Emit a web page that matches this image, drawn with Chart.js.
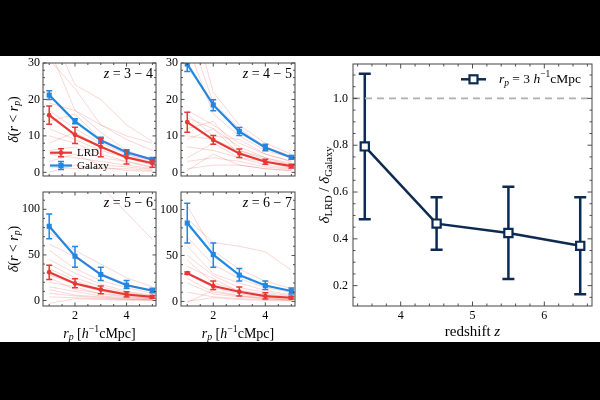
<!DOCTYPE html>
<html>
<head>
<meta charset="utf-8">
<script src="https://cdn.jsdelivr.net/npm/chart.js@4.4.1/dist/chart.umd.min.js"></script>
<style>
  html, body { margin: 0; padding: 0; background: #000; }
  #fig { position: relative; width: 600px; height: 400px; background: #000; overflow: hidden; }
  #paper { position: absolute; left: 0; top: 56px; width: 600px; height: 286px; background: #fff; }
  canvas { position: absolute; }
</style>
</head>
<body>
<div id="fig">
  <div id="paper"></div>
  <canvas id="p34"></canvas>
  <canvas id="p45"></canvas>
  <canvas id="p56"></canvas>
  <canvas id="p67"></canvas>
  <canvas id="ratio"></canvas>
</div>
<script>
// ---- data ----
const rp = [1, 2, 3, 4, 5];
const rpTicks = [2, 4];

// z = 3-4
const lrd34 = [15.7, 10.3, 7.0, 4.1, 2.5];
const lrd34Hi = [18.2, 12.4, 9.3, 5.8, 3.4];
const lrd34Lo = [13.2, 7.9, 4.3, 2.3, 1.4];
const gal34 = [21.2, 14.0, 8.8, 5.5, 3.5];
const gal34Hi = [22.4, 14.7, 9.6, 6.2, 4.1];
const gal34Lo = [20.0, 13.3, 8.0, 4.8, 2.9];
const faint34 = [
  [40, 24, 20, 13, 8.5], [34, 17, 13, 9, 6], [31, 23, 13, 10, 8], [19, 17, 11, 6, 3.5],
  [17, 12, 8, 5, 3], [14, 16, 9, 5, 2.5], [12, 9, 6, 4, 2], [10, 8, 5, 3, 1.5],
  [8, 11, 7, 4, 2.5], [6, 7, 4, 3, 1.2], [5, 4, 3, 2, 1], [3, 5, 2, 1.5, 0.8],
  [1.5, 1, 1.5, 0.5, 0.3], [0, 2, 1, 1, 0.5]
];

// z = 4-5
const lrd45 = [13.8, 8.9, 5.2, 2.9, 1.7];
const lrd45Hi = [16.5, 10.1, 6.4, 3.6, 2.2];
const lrd45Lo = [11.0, 7.7, 4.1, 2.2, 1.2];
const gal45 = [29.7, 18.5, 11.2, 6.8, 4.1];
const gal45Hi = [31.7, 19.9, 12.3, 7.7, 4.6];
const gal45Lo = [27.7, 16.9, 10.1, 5.9, 3.6];
const faint45 = [
  [48, 22, 13, 8, 5], [40, 19, 12, 7, 4.5], [35, 16, 10, 6, 4], [17, 13, 8, 5, 3],
  [15, 12, 7, 4, 2.5], [12, 14, 6, 3.5, 2], [10, 9, 6, 4, 2], [9, 12, 5, 3, 1.5],
  [7, 6, 4, 3, 1], [4, 8, 4, 2, 1], [3, 4, 3, 1.5, 0.8], [1, 2, 2, 1, 0.5],
  [0.5, 5, 2, 1, 0.4], [16, 10, 9, 5, 3]
];

// z = 5-6
const lrd56 = [31.0, 18.6, 12.0, 6.6, 4.0];
const lrd56Hi = [38.7, 24.0, 15.8, 9.5, 5.5];
const lrd56Lo = [23.0, 13.9, 7.3, 3.8, 2.5];
const gal56 = [81.4, 48.6, 28.5, 16.8, 10.9];
const gal56Hi = [95.0, 59.2, 36.5, 21.9, 13.5];
const gal56Lo = [67.8, 36.5, 21.9, 13.1, 8.5];
const faint56 = [
  [250, 180, 126, 96, 67], [75, 55, 40, 25, 15], [62, 48, 30, 18, 10], [55, 35, 22, 14, 8],
  [45, 30, 18, 10, 6], [40, 25, 15, 9, 5], [35, 22, 12, 8, 4], [28, 18, 10, 6, 3],
  [25, 12, 8, 5, 2], [20, 15, 7, 4, 2], [15, 10, 5, 3, 1.5], [12, 6, 4, 2, 1],
  [8, 5, 3, 1.5, 0.8], [4, 3, 2, 1, 0.5], [-3, 2, 1, 0.5, 0.2]
];

// z = 6-7
const lrd67 = [30.7, 16.7, 10.5, 5.8, 4.0];
const lrd67Hi = [32.0, 22.1, 15.6, 9.5, 5.5];
const lrd67Lo = [29.5, 13.0, 5.8, 2.5, 2.5];
const gal67 = [85.2, 50.9, 28.6, 17.3, 11.3];
const gal67Hi = [106.8, 63.5, 35.7, 22.1, 14.5];
const gal67Lo = [63.5, 37.2, 22.1, 13.0, 8.0];
const faint67 = [
  [104, 55, 35, 22, 14], [90, 64, 60, 54, 34], [70, 40, 25, 15, 10], [60, 30, 20, 12, 7],
  [50, 28, 15, 10, 6], [45, 20, 12, 8, 5], [38, 25, 10, 6, 4], [30, 15, 8, 5, 3],
  [25, 10, 6, 4, 2], [20, 8, 5, 3, 1.5], [10, 5, 3, 2, 1], [0, 4, 2, 1, 0.5],
  [-1, 12, 6, 3, 1.5]
];

const ticks30 = [0, 10, 20, 30];
const ticks100 = [0, 50, 100];

// right panel
const zMid = [3.5, 4.5, 5.5, 6.5];
const ratio = [0.795, 0.465, 0.425, 0.37];
const ratioHi = [1.105, 0.578, 0.622, 0.578];
const ratioLo = [0.484, 0.353, 0.228, 0.163];
const zTicks = [4, 5, 6];
const ratioTicks = [0.2, 0.4, 0.6, 0.8, 1.0];
const refX = [3.336, 6.664];
const refY = [1.0, 1.0];

// ---- styling ----
const RED = '#e53935';
const BLUE = '#1e88e5';
const NAVY = '#0d2a52';
const FAINT = 'rgba(229,57,53,0.26)';
const SERIF = '"Liberation Serif", "DejaVu Serif", serif';
const tickFont = { family: SERIF, size: 12 };

const pts = (xs, ys) => xs.map((x, i) => ({ x: x, y: ys[i] }));

function richFont(s, size) {
  const sz = (s.sub || s.sup) ? size * 0.7 : size;
  return (s.it ? 'italic ' : '') + sz + 'px ' + SERIF;
}
function drawRich(ctx, segs, x, y, size, align, rot) {
  ctx.save();
  ctx.translate(x, y);
  if (rot) ctx.rotate(rot);
  let w = 0;
  segs.forEach(s => { ctx.font = richFont(s, size); w += ctx.measureText(s.t).width; });
  let cx = align === 'center' ? -w / 2 : align === 'right' ? -w : 0;
  ctx.textBaseline = 'middle';
  ctx.fillStyle = '#000';
  segs.forEach(s => {
    ctx.font = richFont(s, size);
    const dy = s.sub ? size * 0.28 : s.sup ? -size * 0.32 : 0;
    ctx.fillText(s.t, cx, dy);
    cx += ctx.measureText(s.t).width;
  });
  ctx.restore();
}

const yTitleSmall = [{ t: 'δ', it: 1 }, { t: '(' }, { t: 'r', it: 1 }, { t: ' < ' }, { t: 'r', it: 1 }, { t: 'p', it: 1, sub: 1 }, { t: ')' }];
const xTitleSmall = [{ t: 'r', it: 1 }, { t: 'p', it: 1, sub: 1 }, { t: ' [' }, { t: 'h', it: 1 }, { t: '−1', sup: 1 }, { t: 'cMpc]' }];
const zLabel = txt => [{ t: 'z', it: 1 }, { t: ' = ' + txt }];

// per-canvas extra drawing (titles, legends, panel labels)
const extras = {};

function errLine(ctx, px, hi, lo, cap) {
  ctx.beginPath();
  ctx.moveTo(px, hi); ctx.lineTo(px, lo);
  ctx.moveTo(px - cap, hi); ctx.lineTo(px + cap, hi);
  ctx.moveTo(px - cap, lo); ctx.lineTo(px + cap, lo);
  ctx.stroke();
}

function drawTickMarks(ctx, a, scale, horiz, majors, step, lenMaj, lenMin) {
  const start = Math.ceil(scale.min / step - 1e-9);
  for (let k = start; k * step <= scale.max + 1e-9; k++) {
    const v = k * step;
    const L = majors.some(m => Math.abs(m - v) < 1e-6) ? lenMaj : lenMin;
    const p = scale.getPixelForValue(v);
    ctx.beginPath();
    if (horiz) {
      ctx.moveTo(p, a.bottom); ctx.lineTo(p, a.bottom - L);
      ctx.moveTo(p, a.top); ctx.lineTo(p, a.top + L);
    } else {
      ctx.moveTo(a.left, p); ctx.lineTo(a.left + L, p);
      ctx.moveTo(a.right, p); ctx.lineTo(a.right - L, p);
    }
    ctx.stroke();
  }
}

const decor = {
  id: 'decor',
  beforeDatasetDraw(chart, args) {
    const ds = chart.data.datasets[args.index];
    if (!ds.errHi) return;
    const { ctx, chartArea: a, scales } = chart;
    ctx.save();
    ctx.beginPath(); ctx.rect(a.left, a.top, a.width, a.height); ctx.clip();
    ctx.strokeStyle = ds.borderColor;
    ctx.lineWidth = ds.errWidth;
    ds.data.forEach((p, i) => {
      errLine(ctx, scales.x.getPixelForValue(p.x),
        scales.y.getPixelForValue(ds.errHi[i]), scales.y.getPixelForValue(ds.errLo[i]), ds.errCap);
    });
    ctx.restore();
  },
  afterDraw(chart) {
    const ex = extras[chart.canvas.id];
    const { ctx, chartArea: a, scales } = chart;
    ctx.save();
    ctx.strokeStyle = '#222';
    ctx.lineWidth = 0.8;
    drawTickMarks(ctx, a, scales.x, true, ex.xMajor, ex.xMinor, ex.lenMaj, ex.lenMin);
    drawTickMarks(ctx, a, scales.y, false, ex.yMajor, ex.yMinor, ex.lenMaj, ex.lenMin);
    ctx.strokeStyle = '#444';
    ctx.lineWidth = 1;
    ctx.strokeRect(a.left, a.top, a.width, a.height);
    ctx.restore();
    ex.draw(ctx, a);
  }
};

function place(canvas, box) {
  canvas.width = box.w; canvas.height = box.h;
  canvas.style.left = box.x + 'px'; canvas.style.top = box.y + 'px';
  canvas.style.width = box.w + 'px'; canvas.style.height = box.h + 'px';
}

function scaleCfg(min, max, tickVals, showLabels, pad, fit, fmt) {
  const cfg = {
    type: 'linear', min: min, max: max,
    afterBuildTicks: s => { s.ticks = tickVals.map(v => ({ value: v })); },
    afterFit: fit,
    grid: { display: false, drawTicks: false },
    border: { display: false },
    ticks: { display: showLabels, padding: pad, font: tickFont, color: '#000', maxRotation: 0, autoSkip: false }
  };
  if (fmt) cfg.ticks.callback = fmt;
  return cfg;
}

function smallPanel(p) {
  const canvas = document.getElementById(p.id);
  place(canvas, p.box);
  const b = p.box, f = p.frame;
  const datasets = p.faint.map(row => ({
    data: pts(rp, row), borderColor: FAINT, borderWidth: 0.8, pointRadius: 0
  }));
  datasets.push({
    data: pts(rp, p.lrd), errHi: p.lrdHi, errLo: p.lrdLo, errWidth: 1.5, errCap: 3,
    borderColor: RED, backgroundColor: RED, borderWidth: 2.2,
    pointStyle: 'circle', pointRadius: 2.4, pointBorderWidth: 0
  });
  datasets.push({
    data: pts(rp, p.gal), errHi: p.galHi, errLo: p.galLo, errWidth: 1.5, errCap: 3,
    borderColor: BLUE, backgroundColor: BLUE, borderWidth: 2.2,
    pointStyle: 'rect', pointRadius: 3.6, pointBorderWidth: 0
  });
  extras[p.id] = {
    xMajor: rpTicks, xMinor: 0.5, yMajor: p.yTicks, yMinor: p.yMinor,
    lenMaj: 3.5, lenMin: 2, draw: p.draw
  };
  new Chart(canvas, {
    type: 'line',
    data: { datasets: datasets },
    options: {
      responsive: false, animation: false, events: [],
      layout: { padding: { top: f.top - b.y, right: b.x + b.w - f.right, left: 0, bottom: 0 } },
      plugins: { legend: { display: false }, tooltip: { enabled: false } },
      scales: {
        x: scaleCfg(0.76, 5.14, rpTicks, p.showX, 3, s => { s.height = b.y + b.h - f.bottom; s.paddingLeft = 0; s.paddingRight = 0; }),
        y: scaleCfg(p.yMin, p.yMax, p.yTicks, true, 3, s => { s.width = f.left - b.x; s.paddingTop = 0; s.paddingBottom = 0; })
      }
    },
    plugins: [decor]
  });
}

function smallLegend(ctx, a) {
  const rows = [[RED, 'LRD', 'circle', 89.7], [BLUE, 'Galaxy', 'rect', 102.5]];
  rows.forEach(r => {
    const y = a.top + r[3];
    const x0 = a.left + 7, x1 = a.left + 29, xm = (x0 + x1) / 2;
    ctx.save();
    ctx.strokeStyle = r[0]; ctx.fillStyle = r[0];
    ctx.lineWidth = 2.2;
    ctx.beginPath(); ctx.moveTo(x0, y); ctx.lineTo(x1, y); ctx.stroke();
    ctx.lineWidth = 1.5;
    errLine(ctx, xm, y - 4, y + 4, 3);
    ctx.beginPath();
    if (r[2] === 'circle') ctx.arc(xm, y, 2.4, 0, Math.PI * 2);
    else ctx.rect(xm - 2.6, y - 2.6, 5.2, 5.2);
    ctx.fill();
    ctx.restore();
    drawRich(ctx, [{ t: r[1] }], a.left + 34, y + 0.5, 11, 'left');
  });
}

smallPanel({
  id: 'p34', box: { x: 0, y: 50, w: 160, h: 130 }, frame: { left: 43, top: 63, right: 157, bottom: 177 },
  lrd: lrd34, lrdHi: lrd34Hi, lrdLo: lrd34Lo, gal: gal34, galHi: gal34Hi, galLo: gal34Lo, faint: faint34,
  yMin: -1, yMax: 30, yTicks: ticks30, yMinor: 2, showX: false,
  draw: (ctx, a) => {
    drawRich(ctx, zLabel('3 − 4'), a.right - 3, a.top + 11, 14, 'right');
    drawRich(ctx, yTitleSmall, 14, (a.top + a.bottom) / 2, 14, 'center', -Math.PI / 2);
    smallLegend(ctx, a);
  }
});
smallPanel({
  id: 'p45', box: { x: 160, y: 50, w: 140, h: 130 }, frame: { left: 181, top: 63, right: 295, bottom: 177 },
  lrd: lrd45, lrdHi: lrd45Hi, lrdLo: lrd45Lo, gal: gal45, galHi: gal45Hi, galLo: gal45Lo, faint: faint45,
  yMin: -1, yMax: 30, yTicks: ticks30, yMinor: 2, showX: false,
  draw: (ctx, a) => {
    drawRich(ctx, zLabel('4 − 5'), a.right - 3, a.top + 11, 14, 'right');
  }
});
smallPanel({
  id: 'p56', box: { x: 0, y: 180, w: 160, h: 162 }, frame: { left: 43, top: 192, right: 157, bottom: 306 },
  lrd: lrd56, lrdHi: lrd56Hi, lrdLo: lrd56Lo, gal: gal56, galHi: gal56Hi, galLo: gal56Lo, faint: faint56,
  yMin: -6, yMax: 119, yTicks: ticks100, yMinor: 10, showX: true,
  draw: (ctx, a) => {
    drawRich(ctx, zLabel('5 − 6'), a.right - 3, a.top + 11, 14, 'right');
    drawRich(ctx, yTitleSmall, 14, (a.top + a.bottom) / 2, 14, 'center', -Math.PI / 2);
    drawRich(ctx, xTitleSmall, (a.left + a.right) / 2, a.bottom + 28, 14, 'center');
  }
});
smallPanel({
  id: 'p67', box: { x: 160, y: 180, w: 140, h: 162 }, frame: { left: 181, top: 192, right: 295, bottom: 306 },
  lrd: lrd67, lrdHi: lrd67Hi, lrdLo: lrd67Lo, gal: gal67, galHi: gal67Hi, galLo: gal67Lo, faint: faint67,
  yMin: -5, yMax: 119, yTicks: ticks100, yMinor: 10, showX: true,
  draw: (ctx, a) => {
    drawRich(ctx, zLabel('6 − 7'), a.right - 3, a.top + 11, 14, 'right');
    drawRich(ctx, xTitleSmall, (a.left + a.right) / 2, a.bottom + 28, 14, 'center');
  }
});

// ---- right panel ----
(function () {
  const canvas = document.getElementById('ratio');
  const b = { x: 300, y: 50, w: 300, h: 292 }, f = { left: 353, top: 64, right: 597, bottom: 306 };
  place(canvas, b);
  extras.ratio = {
    xMajor: zTicks, xMinor: 0.2, yMajor: ratioTicks, yMinor: 0.05, lenMaj: 4.5, lenMin: 2.5,
    draw: (ctx, a) => {
      const y = a.top + 15.3, x0 = a.right - 131, x1 = a.right - 106, xm = (x0 + x1) / 2;
      ctx.save();
      ctx.strokeStyle = NAVY; ctx.lineWidth = 2.5;
      ctx.beginPath(); ctx.moveTo(x0, y); ctx.lineTo(x1, y); ctx.stroke();
      ctx.fillStyle = '#fff'; ctx.lineWidth = 2.2;
      ctx.fillRect(xm - 4, y - 4, 8, 8); ctx.strokeRect(xm - 4, y - 4, 8, 8);
      ctx.restore();
      drawRich(ctx, [{ t: 'r', it: 1 }, { t: 'p', it: 1, sub: 1 }, { t: ' = 3 ' }, { t: 'h', it: 1 }, { t: '−1', sup: 1 }, { t: 'cMpc' }],
        a.right - 93, y, 13.5, 'left');
      drawRich(ctx, [{ t: 'δ', it: 1 }, { t: 'LRD', sub: 1 }, { t: ' / ' }, { t: 'δ', it: 1 }, { t: 'Galaxy', sub: 1 }],
        25, (a.top + a.bottom) / 2, 15, 'center', -Math.PI / 2);
      drawRich(ctx, [{ t: 'redshift ' }, { t: 'z', it: 1 }], (a.left + a.right) / 2, a.bottom + 26.5, 15, 'center');
    }
  };
  new Chart(canvas, {
    type: 'line',
    data: {
      datasets: [
        { data: pts(refX, refY), borderColor: '#b0b0b0', borderWidth: 1.8, borderDash: [7, 5], pointRadius: 0 },
        {
          data: pts(zMid, ratio), errHi: ratioHi, errLo: ratioLo, errWidth: 2.5, errCap: 6,
          borderColor: NAVY, borderWidth: 2.5, backgroundColor: '#fff',
          pointStyle: 'rect', pointRadius: 5.8, pointBorderWidth: 2.2, pointBorderColor: NAVY
        }
      ]
    },
    options: {
      responsive: false, animation: false, events: [],
      layout: { padding: { top: f.top - b.y, right: b.x + b.w - f.right, left: 0, bottom: 0 } },
      plugins: { legend: { display: false }, tooltip: { enabled: false } },
      scales: {
        x: scaleCfg(3.336, 6.664, zTicks, true, 3, s => { s.height = b.y + b.h - f.bottom; s.paddingLeft = 0; s.paddingRight = 0; }),
        y: scaleCfg(0.113, 1.147, ratioTicks, true, 5, s => { s.width = f.left - b.x; s.paddingTop = 0; s.paddingBottom = 0; }, v => v.toFixed(1))
      }
    },
    plugins: [decor]
  });
})();
</script>
</body>
</html>
